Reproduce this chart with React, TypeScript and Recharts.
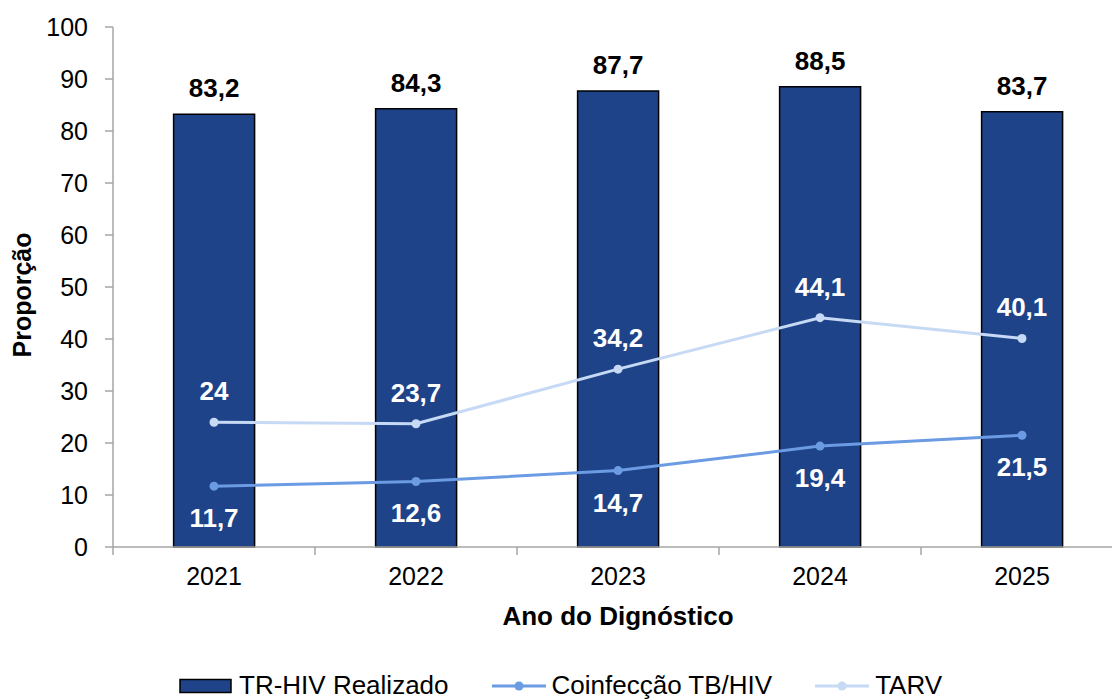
import React from 'react';
import { ComposedChart, Bar, Line, XAxis, YAxis, Legend, LabelList } from 'recharts';

const years = ['2021', '2022', '2023', '2024', '2025'];
const trHiv = [83.2, 84.3, 87.7, 88.5, 83.7];
const coinfeccao = [11.7, 12.6, 14.7, 19.4, 21.5];
const tarv = [24, 23.7, 34.2, 44.1, 40.1];
const yTicks = [0, 10, 20, 30, 40, 50, 60, 70, 80, 90, 100];

const data = years.map((y, i) => ({ year: y, tr: trHiv[i], co: coinfeccao[i], ta: tarv[i] }));

const CHART_W = 1123;
const CHART_H = 699;
const Y_AXIS_W = 113;
const BAND = (CHART_W - Y_AXIS_W) / years.length;
const FONT = '"Liberation Sans", Arial, sans-serif';
const AXIS_COLOR = '#A6A6A6';
const BAR_COLOR = '#1F4388';
const CO_COLOR = '#6A9BE3';
const TA_COLOR = '#C6D9F5';

const fmt = (v: any) => String(v).replace('.', ',');

const XTick = (props: any) => {
  const { x, y, payload, index } = props;
  const half = BAND / 2;
  return (
    <g>
      <line x1={x - half} y1={y} x2={x - half} y2={y + 8} stroke={AXIS_COLOR} strokeWidth={1.5} />
      {index === years.length - 1 && (
        <line x1={x + half} y1={y} x2={x + half} y2={y + 8} stroke={AXIS_COLOR} strokeWidth={1.5} />
      )}
      <text x={x} y={y + 38} textAnchor="middle" fontSize={25} fill="#000" fontFamily={FONT}>
        {payload.value}
      </text>
    </g>
  );
};

const BarLabel = (props: any) => {
  const { x, y, width, value } = props;
  return (
    <text x={x + width / 2} y={y - 17} textAnchor="middle" fontSize={26} fontWeight="bold" fill="#000" fontFamily={FONT}>
      {fmt(value)}
    </text>
  );
};

const TarvLabel = (props: any) => {
  const { x, y, value } = props;
  return (
    <text x={x} y={y - 22} textAnchor="middle" fontSize={26} fontWeight="bold" fill="#fff" fontFamily={FONT}>
      {fmt(value)}
    </text>
  );
};

const CoLabel = (props: any) => {
  const { x, y, value } = props;
  return (
    <text x={x} y={y + 41} textAnchor="middle" fontSize={26} fontWeight="bold" fill="#fff" fontFamily={FONT}>
      {fmt(value)}
    </text>
  );
};

const legendItems = [
  { name: 'TR-HIV Realizado', type: 'bar', color: BAR_COLOR },
  { name: 'Coinfecção TB/HIV', type: 'line', color: CO_COLOR },
  { name: 'TARV', type: 'line', color: TA_COLOR },
];

const LegendContent = () => (
  <div style={{ height: 34, boxSizing: 'border-box', paddingTop: 7, display: 'flex', alignItems: 'center', paddingLeft: 179, fontFamily: FONT, fontSize: 26, color: '#000', lineHeight: '27px' }}>
    {legendItems.map((it, i) => (
      <div key={it.name} style={{ display: 'flex', alignItems: 'center', marginRight: i < legendItems.length - 1 ? 43 : 0 }}>
        <svg width={54} height={16} style={{ marginRight: 6 }}>
          {it.type === 'bar' ? (
            <rect x={1} y={1.5} width={51} height={13} fill={it.color} stroke="#000" strokeWidth={1.5} />
          ) : (
            <g>
              <line x1={0} y1={8} x2={54} y2={8} stroke={it.color} strokeWidth={3} />
              <circle cx={27} cy={8} r={4.5} fill={it.color} />
            </g>
          )}
        </svg>
        <span>{it.name}</span>
      </div>
    ))}
  </div>
);

export default function App() {
  return (
    <div style={{ position: 'absolute', left: 0, top: 0, width: 1112, height: 699, overflow: 'hidden', background: '#fff' }}>
      <ComposedChart
        width={CHART_W}
        height={CHART_H}
        data={data}
        margin={{ top: 27, right: 0, bottom: 0, left: 0 }}
        barCategoryGap="30%"
        style={{ fontFamily: FONT }}
      >
        <XAxis
          dataKey="year"
          height={118}
          tickSize={0}
          tickMargin={0}
          tick={<XTick />}
          stroke={AXIS_COLOR}
          strokeWidth={1.5}
          interval={0}
          label={{
            content: (p: any) => {
              const vb = p.viewBox;
              return (
                <text x={vb.x + vb.width / 2} y={vb.y + 78} textAnchor="middle" fontSize={26} fontWeight="bold" fill="#000" fontFamily={FONT}>
                  Ano do Dignóstico
                </text>
              );
            },
          }}
        />
        <YAxis
          width={Y_AXIS_W}
          domain={[0, 100]}
          ticks={yTicks}
          interval={0}
          tickSize={8}
          tickMargin={17}
          stroke={AXIS_COLOR}
          strokeWidth={1.5}
          tick={{ fontSize: 25, fill: '#000', fontFamily: FONT }}
          label={{
            content: (p: any) => {
              const vb = p.viewBox;
              const cy = vb.y + vb.height / 2 + 8;
              return (
                <text x={22} y={cy} transform={`rotate(-90 22 ${cy})`} textAnchor="middle" dominantBaseline="central" fontSize={25} fontWeight="bold" fill="#000" fontFamily={FONT}>
                  Proporção
                </text>
              );
            },
          }}
        />
        <Legend verticalAlign="bottom" content={<LegendContent />} wrapperStyle={{ left: 0, width: CHART_W }} />
        <Bar dataKey="tr" name="TR-HIV Realizado" fill={BAR_COLOR} stroke="#000" strokeWidth={1.5} isAnimationActive={false}>
          <LabelList dataKey="tr" content={<BarLabel />} />
        </Bar>
        <Line dataKey="co" name="Coinfecção TB/HIV" stroke={CO_COLOR} strokeWidth={3} dot={{ r: 4.5, fill: CO_COLOR, stroke: CO_COLOR, strokeWidth: 0 }} activeDot={false} type="linear" isAnimationActive={false}>
          <LabelList dataKey="co" content={<CoLabel />} />
        </Line>
        <Line dataKey="ta" name="TARV" stroke={TA_COLOR} strokeWidth={3} dot={{ r: 4.5, fill: TA_COLOR, stroke: TA_COLOR, strokeWidth: 0 }} activeDot={false} type="linear" isAnimationActive={false}>
          <LabelList dataKey="ta" content={<TarvLabel />} />
        </Line>
      </ComposedChart>
    </div>
  );
}
